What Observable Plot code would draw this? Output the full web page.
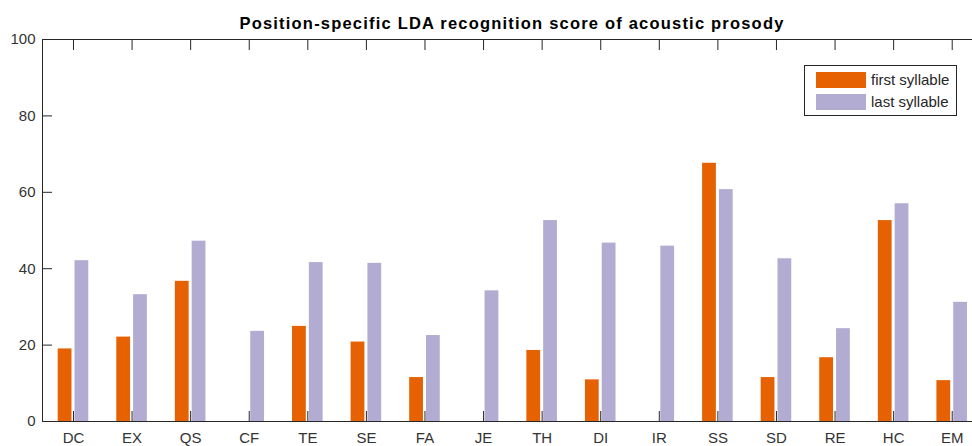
<!DOCTYPE html>
<html>
<head>
<meta charset="utf-8">
<script src="https://cdn.jsdelivr.net/npm/d3@7"></script>
<script src="https://cdn.jsdelivr.net/npm/@observablehq/plot@0.6"></script>
<style>
  html, body { margin: 0; padding: 0; background: #fff; overflow: hidden; }
  #wrap { position: relative; width: 972px; height: 446px; font-family: "Liberation Sans", Arial, sans-serif; }
  #legend { position: absolute; left: 804px; top: 65px; width: 151px; height: 49px; border: 1px solid #262626; background: #fff; box-sizing: content-box; }
  .item { position: absolute; left: 11px; font-size: 15px; color: #262626; }
  .sw { position: absolute; left: 0; width: 50px; height: 16px; }
  .lab { position: absolute; left: 55px; top: -1px; white-space: nowrap; line-height: 18px; }
</style>
</head>
<body>
<div id="wrap"></div>
<script>
const title = "Position-specific LDA recognition score of acoustic prosody";
const categories = ["DC","EX","QS","CF","TE","SE","FA","JE","TH","DI","IR","SS","SD","RE","HC","EM"];
const firstSyllable = [19.0, 22.1, 36.7, 0, 24.9, 20.8, 11.5, 0, 18.6, 10.9, 0, 67.6, 11.5, 16.7, 52.6, 10.7];
const lastSyllable  = [42.1, 33.2, 47.2, 23.6, 41.6, 41.4, 22.5, 34.2, 52.6, 46.7, 45.9, 60.7, 42.6, 24.3, 57.0, 31.2];
const seriesNames = ["first syllable", "last syllable"];
const seriesColors = ["#E66101", "#B2ABD2"];
const yTicks = [0, 20, 40, 60, 80, 100];

const firstData = categories.map((c, i) => ({cat: c, value: firstSyllable[i]}));
const lastData = categories.map((c, i) => ({cat: c, value: lastSyllable[i]}));

const axisColor = "#262626";
const labelColor = "#333333";
const chart = Plot.plot({
  width: 972,
  height: 446,
  marginLeft: 42,
  marginRight: -9,
  marginTop: 39,
  marginBottom: 25,
  style: {fontFamily: "'Liberation Sans', Arial, sans-serif", fontSize: "15px", color: axisColor, background: "#fff"},
  x: {domain: categories, range: [43.7, 981], padding: 0, round: false, label: null},
  y: {domain: [0, 100], label: null},
  marks: [
    Plot.barY(firstData, {x: "cat", y: "value", fill: seriesColors[0], insetLeft: 14, insetRight: 30.8}),
    Plot.barY(lastData, {x: "cat", y: "value", fill: seriesColors[1], insetLeft: 30.8, insetRight: 14}),
    Plot.frame({stroke: axisColor, strokeWidth: 1}),
    Plot.axisY({ticks: yTicks, anchor: "left", tickSize: -10, tickPadding: 17, stroke: axisColor, fill: labelColor, fontSize: 15, label: null}),
    Plot.axisY({ticks: yTicks, anchor: "right", tickSize: -10, tickFormat: () => "", stroke: axisColor, label: null}),
    Plot.axisX({anchor: "bottom", tickSize: -10, tickPadding: 21, stroke: axisColor, fill: labelColor, fontSize: 15, label: null}),
    Plot.axisX({anchor: "top", tickSize: -10, tickFormat: () => "", stroke: axisColor, label: null}),
    Plot.text([title], {frameAnchor: "top", dy: -16, lineAnchor: "middle", fontWeight: "bold", fontSize: 16.5, fill: "#000"})
  ]
});
// letter spacing for the title (MATLAB renders it wide)
chart.querySelectorAll("text").forEach(t => { if (t.textContent === title) t.setAttribute("letter-spacing", "1.2"); });
const wrap = document.getElementById("wrap");
wrap.appendChild(chart);

const legend = document.createElement("div");
legend.id = "legend";
seriesNames.forEach((name, i) => {
  const item = document.createElement("div");
  item.className = "item";
  item.style.top = (i === 0 ? 6 : 28) + "px";
  const sw = document.createElement("div");
  sw.className = "sw";
  sw.style.background = seriesColors[i];
  const lab = document.createElement("div");
  lab.className = "lab";
  lab.textContent = name;
  item.appendChild(sw);
  item.appendChild(lab);
  legend.appendChild(item);
});
wrap.appendChild(legend);
</script>
</body>
</html>
